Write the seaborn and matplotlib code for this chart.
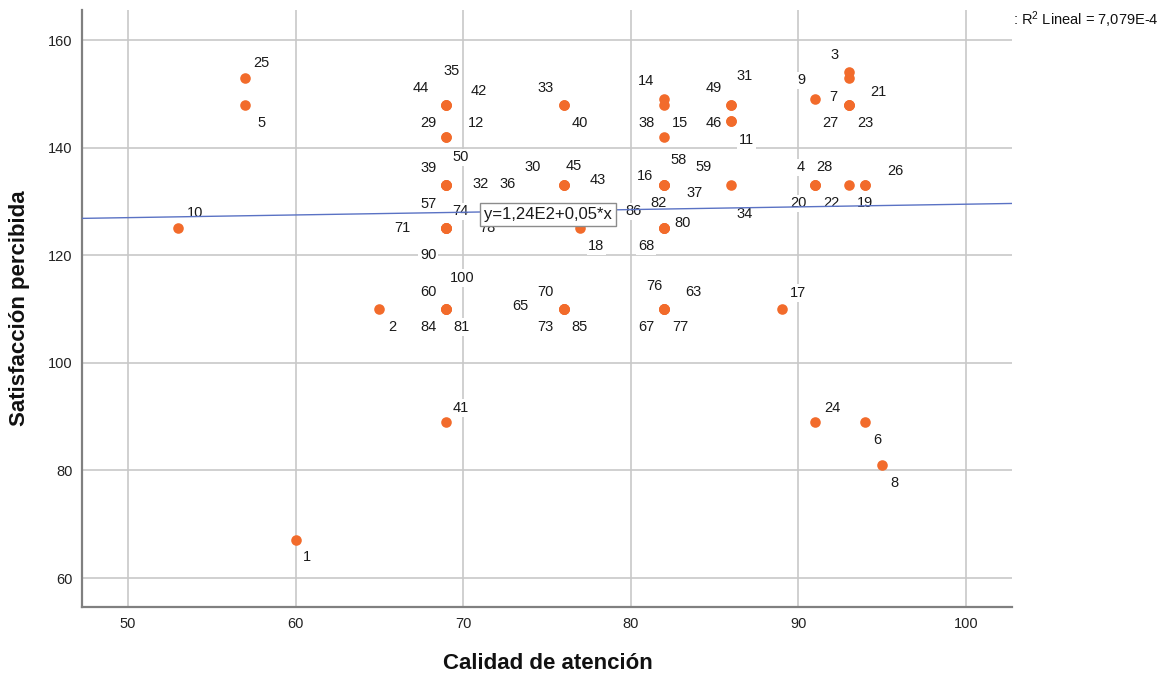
import matplotlib
matplotlib.use("Agg")
import matplotlib.pyplot as plt
import seaborn as sns
import numpy as np
import pandas as pd

# ---------------- data ----------------
case_ids = [25, 5, 10, 1, 2,
            35, 44, 42, 29, 12, 50, 39, 32, 36, 57, 74, 71, 78, 90, 100, 60, 84, 81, 41,
            33, 40, 30, 45, 43, 18, 70, 65, 73, 85,
            14, 38, 15, 16, 58, 59, 37, 82, 86, 80, 68, 76, 63, 67, 77,
            49, 31, 46, 11, 34,
            9, 4, 28, 20, 24, 17,
            3, 7, 21, 27, 23, 22, 26, 19, 6, 8]
calidad = [57, 57, 53, 60, 65,
           69, 69, 69, 69, 69, 69, 69, 69, 69, 69, 69, 69, 69, 69, 69, 69, 69, 69, 69,
           76, 76, 76, 76, 76, 77, 76, 76, 76, 76,
           82, 82, 82, 82, 82, 82, 82, 82, 82, 82, 82, 82, 82, 82, 82,
           86, 86, 86, 86, 86,
           91, 91, 91, 91, 91, 89,
           93, 93, 93, 93, 93, 93, 94, 94, 94, 95]
satisfaccion = [153, 148, 125, 67, 110,
                148, 148, 148, 142, 142, 133, 133, 133, 133, 125, 125, 125, 125, 125, 110, 110, 110, 110, 89,
                148, 148, 133, 133, 133, 125, 110, 110, 110, 110,
                149, 148, 142, 133, 133, 133, 133, 125, 125, 125, 125, 110, 110, 110, 110,
                148, 148, 145, 145, 133,
                149, 133, 133, 133, 89, 110,
                154, 153, 148, 148, 148, 133, 133, 133, 89, 81]

x_ticks = [50, 60, 70, 80, 90, 100]
y_ticks = [60, 80, 100, 120, 140, 160]

fit_intercept = 124.5
fit_slope = 0.05
fit_label = "y=1,24E2+0,05*x"
r2_label = ": R$^{2}$ Lineal = 7,079E-4"

# label offsets in pixels (layout only)
label_offsets = {
    25: (16, 15), 5: (16, -18), 10: (17, 15), 1: (11, -17), 2: (13, -18),
    35: (5, 34), 44: (-26, 17), 42: (32, 14), 29: (-18, 14), 12: (30, 14),
    50: (14, 28), 39: (-18, 17), 32: (34, 1), 36: (61, 1), 57: (-18, 24),
    74: (14, 17), 71: (-44, 0), 78: (41, 0), 90: (-18, -27), 100: (16, 31),
    60: (-18, 17), 84: (-18, -18), 81: (15, -18), 41: (14, 14),
    33: (-18, 17), 40: (16, -18), 30: (-31, 18), 45: (10, 19), 43: (34, 5),
    18: (16, -18), 70: (-18, 17), 65: (-43, 3), 73: (-18, -18), 85: (16, -18),
    14: (-18, 18), 38: (-18, -18), 15: (16, 14), 16: (-19, 9), 58: (14, 25),
    59: (39, 18), 37: (30, -8), 82: (-6, 25), 86: (-31, 17), 80: (18, 5),
    68: (-18, -18), 76: (-10, 23), 63: (29, 17), 67: (-18, -18), 77: (16, -18),
    49: (-18, 17), 31: (13, 29), 46: (-18, -2), 11: (15, -19), 34: (13, -29),
    9: (-14, 19), 4: (-14, 18), 28: (9, 18), 20: (-17, -18), 24: (17, 14),
    17: (16, 16), 3: (-14, 17), 7: (-15, -19), 21: (30, 13), 27: (-18, -18),
    23: (17, -18), 22: (-17, -18), 26: (30, 14), 19: (0, -18), 6: (12, -18),
    8: (12, -18),
}

df = pd.DataFrame({"case": case_ids, "Calidad de atención": calidad,
                   "Satisfacción percibida": satisfaccion})

# ---------------- style ----------------
sns.set_style("white")
plt.rcParams["font.family"] = ["Liberation Sans", "DejaVu Sans"]
plt.rcParams["mathtext.default"] = "regular"

fig = plt.figure(figsize=(11.6, 6.73), dpi=100)
ax = fig.add_axes([0.0711, 0.098, 0.8017, 0.8871])

XMIN, XMAX = 47.29, 102.77
YMIN, YMAX = 54.6, 165.6

sns.scatterplot(data=df, x="Calidad de atención", y="Satisfacción percibida",
                color="#F26B2B", s=58, linewidth=0, zorder=5, ax=ax)

# regression line
xl = np.array([XMIN, XMAX])
sns.lineplot(x=xl, y=fit_intercept + fit_slope * xl, color="#5A72C4",
             linewidth=1.0, zorder=4, ax=ax)

# case labels
for c, xv, yv in zip(case_ids, calidad, satisfaccion):
    dx, dy = label_offsets[c]
    ax.annotate(str(c), (xv, yv), xytext=(dx, dy), textcoords="offset pixels",
                ha="center", va="center", fontsize=10.5, color="#1a1a1a",
                bbox=dict(boxstyle="square,pad=0.12", fc="white", ec="none"),
                zorder=3)

# equation box
ax.text(75.06, 127.6, fit_label, ha="center", va="center", fontsize=12,
        color="#1a1a1a",
        bbox=dict(boxstyle="square,pad=0.22", fc="white", ec="#8c8c8c", lw=1),
        zorder=6)

ax.set_xlim(XMIN, XMAX)
ax.set_ylim(YMIN, YMAX)
ax.set_xticks(x_ticks)
ax.set_yticks(y_ticks)
ax.grid(True, color="#c8c8c8", linewidth=1.2)
ax.set_axisbelow(True)
ax.tick_params(length=0, pad=7, labelsize=10.5, colors="#222222")

for s in ["top", "right"]:
    ax.spines[s].set_visible(False)
for s in ["left", "bottom"]:
    ax.spines[s].set_color("#808080")
    ax.spines[s].set_linewidth(1.6)

ax.set_xlabel("Calidad de atención", fontsize=16, fontweight="bold", color="#111111")
ax.set_ylabel("Satisfacción percibida", fontsize=16, fontweight="bold", color="#111111")
ax.xaxis.set_label_coords(0.5005, -0.0938)
ax.xaxis.label.set_va("center")
ax.yaxis.set_label_coords(-0.0672, 0.5008)
ax.yaxis.label.set_va("center")

fig.text(1013 / 1160, 1 - 20 / 673, r2_label, fontsize=10.5, ha="left", va="center",
         color="#111111")

fig.savefig("out.png", dpi=100)
